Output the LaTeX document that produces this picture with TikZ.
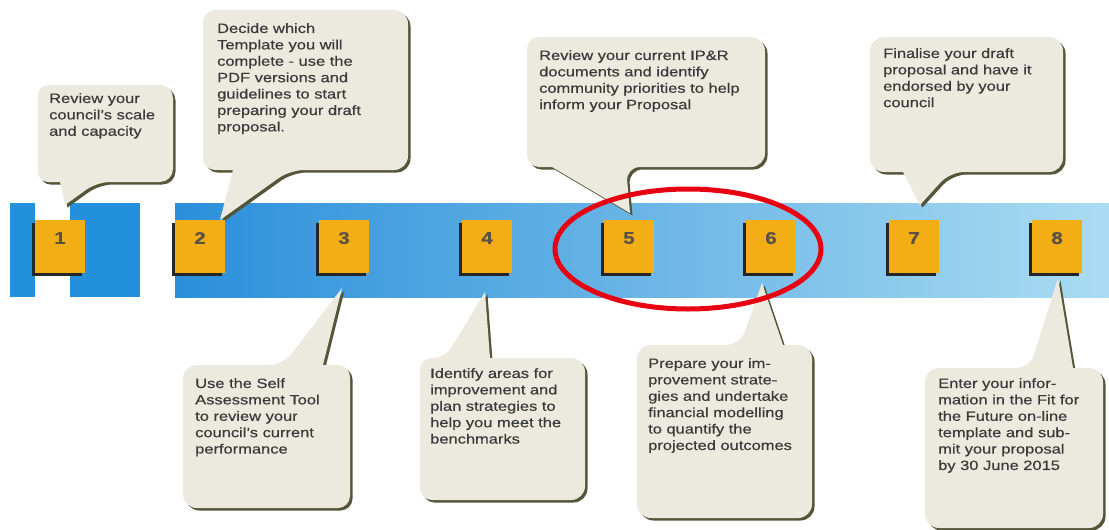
\documentclass[tikz,border=0pt]{standalone}
\usepackage{fontspec}
\setmainfont{Liberation Sans}[FakeStretch=1.22, FakeBold=0.4]
\usetikzlibrary{shadows}
\definecolor{bub}{HTML}{ECEADF}
\definecolor{bubsh}{HTML}{55553A}
\definecolor{sqc}{HTML}{F2AE14}
\definecolor{numc}{HTML}{5A5244}
\definecolor{txt}{HTML}{3A3A3A}
\definecolor{bandL}{HTML}{2A8FDA}
\definecolor{bandM}{HTML}{74BAE9}
\definecolor{bandR}{HTML}{AADCF2}
\definecolor{seg}{HTML}{2290DC}
\definecolor{ring}{HTML}{E60012}
\newcommand\drawbubble[1]{%
  \fill[bubsh,shift={(2.5,2.5)}] #1;
  \fill[bub] #1;}
\begin{document}
\begin{tikzpicture}[x=1pt,y=-1pt,
  txtn/.style={anchor=north west, align=left, inner sep=0pt,
    font=\fontsize{13.5}{16.4}\selectfont, text=txt},
  sq/.style={fill=sqc, minimum width=50pt, minimum height=53pt, inner sep=0pt,
    drop shadow={shadow xshift=-3pt, shadow yshift=-3pt, opacity=1, fill=black!85}},
  num/.style={font=\bfseries\fontsize{17}{17}\selectfont, text=numc, inner sep=0pt},
  ringst/.style={draw=ring, line width=5pt}]
\fill[white] (0,0) rectangle (1109,530);
\useasboundingbox (0,0) rectangle (1109,530);
% timeline band
\fill[seg] (10,203) rectangle (35,297);
\fill[seg] (70,203) rectangle (140,297);
\shade[left color=bandL, middle color=bandM, right color=bandR] (175,203) rectangle (1109,297);
% callouts above
\drawbubble{[rounded corners=13pt] (100,85) -- (173,85) -- (173,182) -- (97,182) [sharp corners] -- (65,205) -- (60,182) [rounded corners=10pt] -- (38,182) -- (38,85) -- cycle}
\drawbubble{[rounded corners=14pt] (300,10) -- (408,10) -- (408,170) -- (290,170) [sharp corners] -- (220,220) -- (233,170) [rounded corners=12pt] -- (203,170) -- (203,10) -- cycle}
\drawbubble{[rounded corners=14pt] (650,37) -- (765,37) -- (765,167) -- (626,167) [sharp corners] -- (630,213) -- (552,167) [rounded corners=12pt] -- (527,167) -- (527,37) -- cycle}
\drawbubble{[rounded corners=14pt] (960,37) -- (1063,37) -- (1063,172) -- (950,172) [sharp corners] -- (920,205) -- (903,172) [rounded corners=14pt] -- (870,172) -- (870,37) -- cycle}
% callouts below
\drawbubble{[rounded corners=14pt] (260,508) -- (183,508) -- (183,365) -- (283,365) [sharp corners] -- (342,288) -- (323,365) [rounded corners=12pt] -- (350,365) -- (350,508) -- cycle}
\drawbubble{[rounded corners=12pt] (500,500) -- (420,500) -- (420,358) -- (445,358) [sharp corners] -- (485,292) -- (490,358) [rounded corners=14pt] -- (585,358) -- (585,500) -- cycle}
\drawbubble{[rounded corners=14pt] (720,518) -- (637,518) -- (637,345) -- (740,345) [sharp corners] -- (762,283) -- (783,345) [rounded corners=14pt] -- (812,345) -- (812,518) -- cycle}
\drawbubble{[rounded corners=14pt] (1010,528) -- (925,528) -- (925,368) -- (1030,368) [sharp corners] -- (1058,278) -- (1073,368) [rounded corners=14pt] -- (1103,368) -- (1103,528) -- cycle}
% texts
\node[txtn] (t1) at (49,93) {Review your\\council's scale\\and capacity};
\node[txtn] (t2) at (217,23) {Decide which\\Template you will\\complete - use the\\PDF versions and\\guidelines to start\\preparing your draft\\proposal.};
\node[txtn] (t5) at (539,50) {Review your current IP\&R\\documents and identify\\community priorities to help\\inform your Proposal};
\node[txtn] (t7) at (883,48) {Finalise your draft\\proposal and have it\\endorsed by your\\council};
\node[txtn] (t3) at (195,378) {Use the Self\\Assessment Tool\\to review your\\council's current\\performance};
\node[txtn] (t4) at (430,368) {Identify areas for\\improvement and\\plan strategies to\\help you meet the\\benchmarks};
\node[txtn] (t6) at (648,358) {Prepare your im-\\provement strate-\\gies and undertake\\financial modelling\\to quantify the\\projected outcomes};
\node[txtn] (t8) at (938,378) {Enter your infor-\\mation in the Fit for\\the Future on-line\\template and sub-\\mit your proposal\\by 30 June 2015};
% squares
\foreach \i/\x in {1/60,2/200,3/344,4/487,5/629,6/771,7/914,8/1057}{
  \node[sq] (s\i) at (\x,246.5) {};
  \node[num] (n\i) at (\x,238) {\i};
}
% highlight ring
\draw[ringst] (688,249) ellipse [x radius=133pt, y radius=60pt];
\end{tikzpicture}
\end{document}
